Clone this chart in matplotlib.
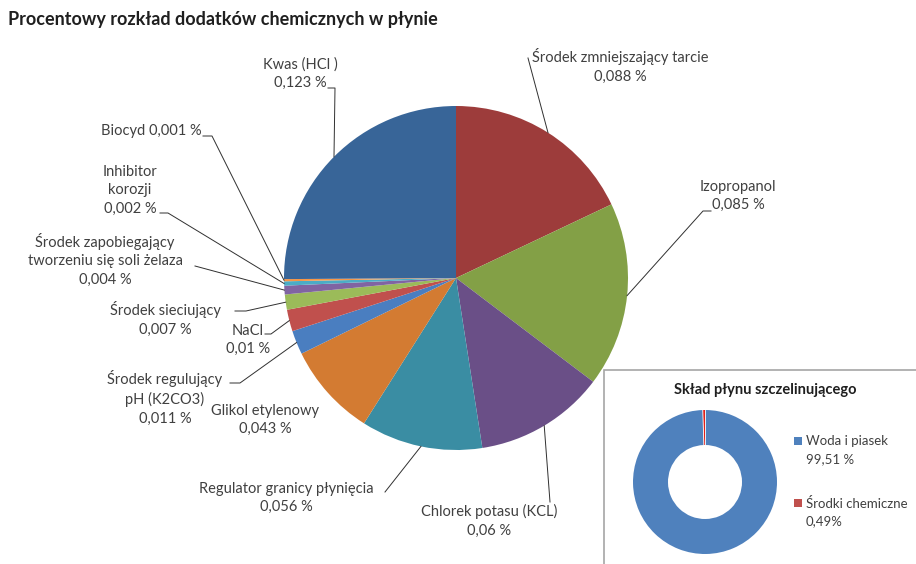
import matplotlib.pyplot as plt
from matplotlib.patches import Rectangle
import numpy as np

W, H = 916, 564

# main pie, clockwise from 12 o'clock
names = [
    "Środek zmniejszający tarcie",
    "Izopropanol",
    "Chlorek potasu (KCL)",
    "Regulator granicy płynięcia",
    "Glikol etylenowy",
    "Środek regulujący\npH (K2CO3)",
    "NaCl",
    "Środek sieciujący",
    "Środek zapobiegający\ntworzeniu się soli żelaza",
    "Inhibitor\nkorozji",
    "Biocyd",
    "Kwas (HCl )",
]
values = [0.088, 0.085, 0.06, 0.056, 0.043, 0.011, 0.01, 0.007, 0.004, 0.002, 0.001, 0.123]
colors = ["#9D3C3B", "#83A046", "#6A4F87", "#3A8DA3", "#D37B32", "#4A7EC0",
          "#C0504D", "#9BBB59", "#8064A2", "#4BACC6", "#F79646", "#386598"]

ring_names = ["Woda i piasek", "Środki chemiczne"]
ring_values = [99.51, 0.49]
ring_texts = ["99,51 %", "0,49%"]
ring_colors = ["#4F81BD", "#E0201B"]

# label layout in pixels (x, y from top): text centre, leader start, knee
layout = [
    ((620, 66), (528, 58), None),
    ((738, 196), (711, 211), (703, 211)),
    ((489, 521), (550, 502), None),
    ((286, 498), (385, 492), None),
    ((265, 420), None, None),
    ((165, 398), (230, 383), (240, 383)),
    ((248, 340), (265, 334), (271, 334)),
    ((165, 319), (235, 311), (246, 311)),
    ((105, 260), (195, 266), None),
    ((130, 190), (160, 213), (168, 213)),
    ((151, 131), (203, 136), (212, 136)),
    ((300, 74), (328, 88), (335, 88)),
]

TXT = "#404040"
FONT = "Lato"


def fmt(v):
    return f"{v:g}".replace(".", ",") + " %"


def main():
    fig = plt.figure(figsize=(W / 100, H / 100), dpi=100)
    ax = fig.add_axes([0, 0, 1, 1])

    cx, cy, r = 456, H - 278, 172
    wedges, _ = ax.pie(values, colors=colors, startangle=90, counterclock=False,
                       center=(cx, cy), radius=r, frame=True,
                       wedgeprops=dict(linewidth=0))

    ax.text(8, H - 20, "Procentowy rozkład dodatków chemicznych w płynie",
            fontsize=13, fontweight="bold", color="#1F1F1F", family=FONT,
            va="center", ha="left")

    for w, name, v, (tpos, start, knee) in zip(wedges, names, values, layout):
        label = name + ("\n" if name != "Biocyd" else " ") + fmt(v)
        ax.text(tpos[0], H - tpos[1], label, ha="center", va="center",
                fontsize=10.5, color=TXT, family=FONT, linespacing=1.4)
        if start is None:
            continue
        mid = np.deg2rad((w.theta1 + w.theta2) / 2)
        ex = cx + r * np.cos(mid)
        ey = cy + r * np.sin(mid)
        xs = [start[0]]
        ys = [H - start[1]]
        if knee is not None:
            xs.append(knee[0])
            ys.append(H - knee[1])
        xs.append(ex)
        ys.append(ey)
        ax.plot(xs, ys, color="#303030", lw=0.7)

    # inset box
    ax.add_patch(Rectangle((604, -5), W - 604 + 5, H - 370 + 5, facecolor="white",
                           edgecolor="#A6A6A6", lw=1.2, zorder=5))
    ax.text(765, H - 390, "Skład płynu szczelinującego", ha="center", va="center",
            fontsize=10.5, fontweight="bold", color="#1F1F1F", family=FONT, zorder=6)
    ring, _ = ax.pie(ring_values, colors=ring_colors, startangle=90, counterclock=False,
                     center=(705, H - 482), radius=72, frame=True,
                     wedgeprops=dict(width=35, linewidth=0))
    for p in ring:
        p.set_zorder(6)
    # thin white separators either side of the small segment
    for ang in (ring[1].theta1, ring[1].theta2):
        a = np.deg2rad(ang)
        ax.plot([705 + 37 * np.cos(a), 705 + 72 * np.cos(a)],
                [H - 482 + 37 * np.sin(a), H - 482 + 72 * np.sin(a)],
                color="white", lw=0.6, zorder=7)

    for i, (nm, tx, c) in enumerate(zip(ring_names, ring_texts, ring_colors[:1] + ["#C0504D"])):
        y = H - (441 + 62 * i)
        ax.add_patch(Rectangle((794, y - 4), 8, 8, facecolor=c, lw=0, zorder=6))
        ax.text(806, y, nm, ha="left", va="center", fontsize=9.5, color=TXT,
                family=FONT, zorder=6)
        ax.text(806, y - 18, tx, ha="left", va="center", fontsize=9.5, color=TXT,
                family=FONT, zorder=6)

    ax.set_xlim(0, W)
    ax.set_ylim(0, H)
    ax.set_aspect("equal")
    ax.axis("off")
    fig.savefig("out.png", dpi=100)


if __name__ == "__main__":
    main()
